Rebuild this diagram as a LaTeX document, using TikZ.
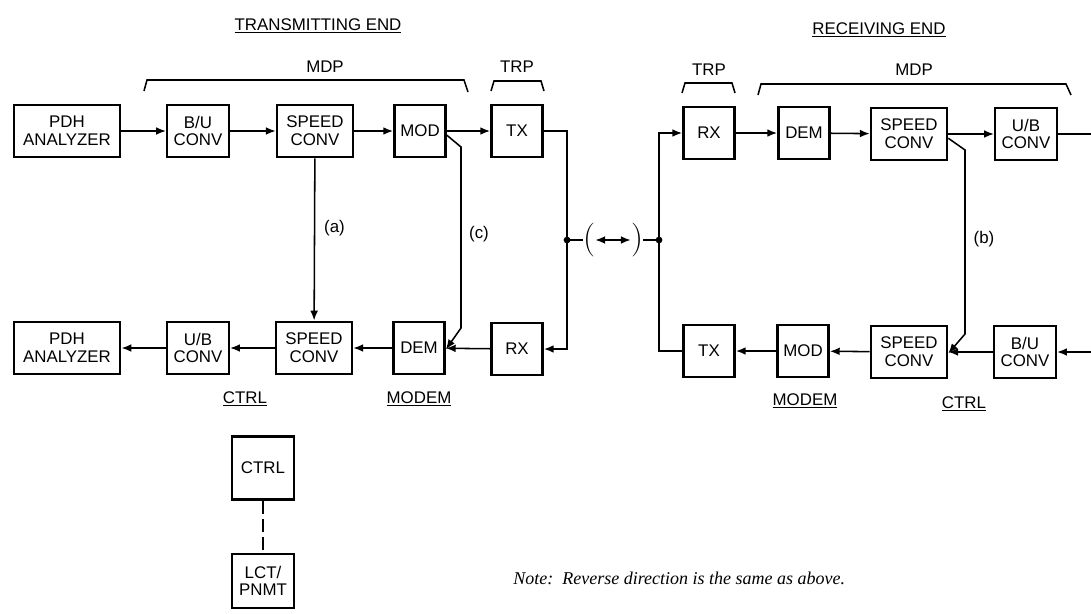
\documentclass[tikz,border=0pt]{standalone}
\usepackage{fontspec}
\setsansfont{Liberation Sans}
\newfontfamily\notefont{Liberation Serif}
\usetikzlibrary{arrows.meta}

\tikzset{
  blk/.style={draw,line width=1.8pt,align=center,inner sep=1pt,minimum height=1.31cm,font=\sffamily\fontsize{12}{12.6}\selectfont},
  pdh/.style={blk,minimum width=2.66cm},
  conv/.style={blk,minimum width=1.54cm},
  speed/.style={blk,minimum width=1.9cm},
  unit/.style={blk,minimum width=1.28cm},
  tag/.style={font=\sffamily\fontsize{12}{12}\selectfont},
  wire/.style={line width=1.1pt},
  flow/.style={wire,-{Latex[length=7pt,width=5.5pt]}},
}

\begin{document}
\begin{tikzpicture}[x=0.025cm,y=-0.025cm,font=\sffamily]
  \useasboundingbox (0,0) rectangle (1091,613);
  % headings and groups
  \node[tag] (txhead) at (318,26) {\underline{TRANSMITTING END}};
  \node[tag] (rxhead) at (879,30) {\underline{RECEIVING END}};
  \node[tag] (mdpA) at (325,67) {MDP};
  \node[tag] (trpA) at (517,67) {TRP};
  \node[tag] (trpB) at (709,70) {TRP};
  \node[tag] (mdpB) at (914,70) {MDP};
  \draw[wire] (144,91) -- (147,80) -- (464,80) -- (468,92);
  \draw[wire] (491,91) -- (494,81) -- (541,81) -- (544,91);
  \draw[wire] (682,93) -- (685,83) -- (732,83) -- (735,93);
  \draw[wire] (758,95) -- (761,84) -- (1066,84) -- (1071,95);

  % transmitting end, forward
  \node[pdh] (pdhA) at (67,131) {PDH\\ANALYZER};
  \node[conv] (buA) at (198,131) {B/U\\CONV};
  \node[speed] (scA) at (315,131) {SPEED\\CONV};
  \node[unit] (modA) at (420,131) {MOD};
  \node[unit] (txA) at (517,131) {TX};
  \foreach \a/\b in {pdhA/buA,buA/scA,scA/modA,modA/txA}
    \draw[flow] (\a) -- (\b);

  % transmitting end, return
  \node[pdh] (pdhC) at (67,348) {PDH\\ANALYZER};
  \node[conv] (ubC) at (198,348) {U/B\\CONV};
  \node[speed] (scC) at (314,348) {SPEED\\CONV};
  \node[unit] (demC) at (419,348) {DEM};
  \node[unit] (rxC) at (517,349) {RX};
  \foreach \a/\b in {rxC/demC,demC/scC,scC/ubC,ubC/pdhC}
    \draw[flow] (\a) -- (\b);
  \node[tag] (ctrlC) at (245,399) {\underline{CTRL}};
  \node[tag] (modemC) at (419,399) {\underline{MODEM}};

  % receiving end, forward
  \node[unit] (rxB) at (709,133) {RX};
  \node[unit] (demB) at (804,133) {DEM};
  \node[speed] (scB) at (909,134) {SPEED\\CONV};
  \node[conv] (ubB) at (1026,134) {U/B\\CONV};
  \foreach \a/\b in {rxB/demB,demB/scB,scB/ubB}
    \draw[flow] (\a) -- (\b);
  \coordinate (outB) at (1091,134);
  \draw[wire] (ubB) -- (outB);

  % receiving end, return
  \node[unit] (txD) at (709,351) {TX};
  \node[unit] (modD) at (803,351) {MOD};
  \node[speed] (scD) at (909,352) {SPEED\\CONV};
  \node[conv] (buD) at (1025,352) {B/U\\CONV};
  \coordinate (inD) at (1091,352);
  \foreach \a/\b in {inD/buD,buD/scD,scD/modD,modD/txD}
    \draw[flow] (\a) -- (\b);
  \node[tag] (modemD) at (805,401) {\underline{MODEM}};
  \node[tag] (ctrlD) at (964,404) {\underline{CTRL}};

  % radio hop
  \coordinate (jL) at (567,240);
  \coordinate (jR) at (659,240);
  \draw[flow] (txA.east) -- (txA.east -| jL) -- (rxC.east -| jL) -- (rxC.east);
  \draw[flow] (txD.west) -- (txD.west -| jR) -- (rxB.west -| jR) -- (rxB.west);
  \fill (jL) circle (2.4pt) (jR) circle (2.4pt);
  \node[font=\fontsize{24}{24}\selectfont,inner sep=0pt] (parL) at (589,240) {(};
  \node[font=\fontsize{24}{24}\selectfont,inner sep=0pt] (parR) at (637,240) {)};
  \draw[wire] (jL) -- (parL);
  \draw[wire] (parR) -- (jR);
  \draw[wire,{Latex[length=7pt,width=5.5pt]}-{Latex[length=7pt,width=5.5pt]}] (parL) -- (parR);

  % loopbacks
  \draw[flow] (scA) -- (scC) node[tag,pos=0.43,right=3pt] {(a)};
  \coordinate (cTop) at (461,147);
  \coordinate (cBot) at (461,328);
  \draw[flow] ([yshift=-3pt]modA.east) -- (cTop) -- (cBot) -- ([yshift=-1pt]demC.east);
  \node[tag] (labC) at (479,234) {(c)};
  \coordinate (bTop) at (965,150);
  \coordinate (bBot) at (965,334);
  \draw[flow] ([yshift=-3pt]scB.east) -- (bTop) -- (bBot) -- ([yshift=-1pt]scD.east);
  \node[tag] (labB) at (984,239) {(b)};

  % local terminal
  \node[conv,minimum height=1.58cm] (ctrl) at (263,468) {CTRL};
  \node[conv,minimum height=1.36cm] (lct) at (263,581) {LCT/\\PNMT};
  \draw[line width=2pt,dash pattern=on 9pt off 4pt] (ctrl) -- (lct);

  \node[anchor=west,inner sep=0pt,font=\notefont\itshape\fontsize{12.8}{14}\selectfont] (note) at (513,578) {Note:\, Reverse direction is the same as above.};
\end{tikzpicture}
\end{document}
